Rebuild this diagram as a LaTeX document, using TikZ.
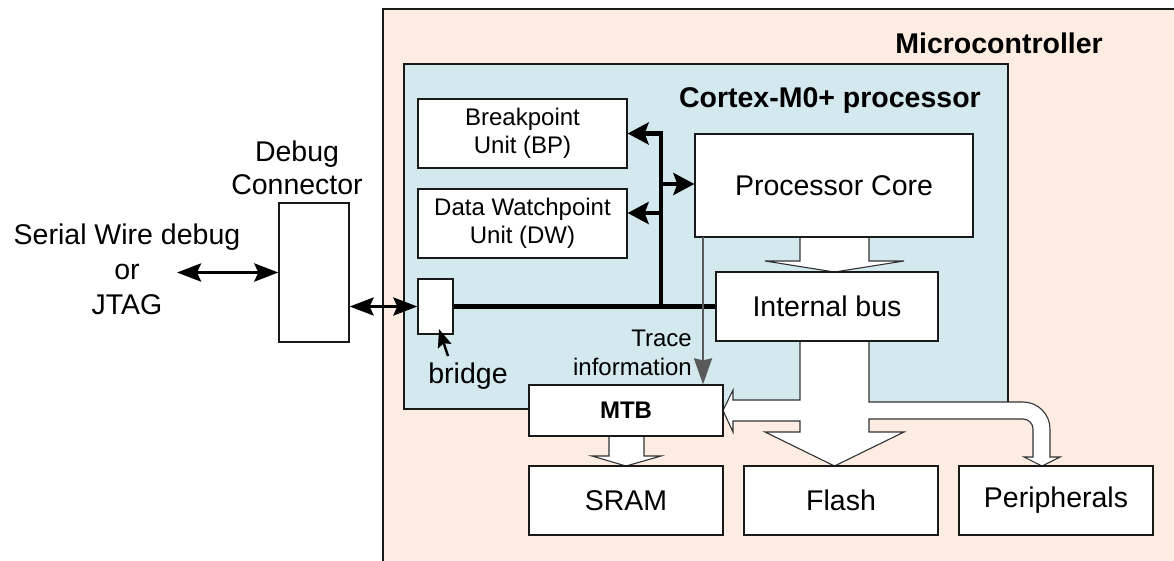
\documentclass[tikz,border=0pt]{standalone}
\usepackage{fontspec}
\setmainfont{Liberation Sans}
\usetikzlibrary{arrows.meta}
\definecolor{peach}{HTML}{FCECE2}
\definecolor{lblue}{HTML}{D3E9EE}
\definecolor{tracegray}{HTML}{5A5A5A}
\newcommand{\bigfnt}{\fontsize{28.5}{33}\selectfont}
\newcommand{\smallfnt}{\fontsize{24}{28}\selectfont}
\begin{document}
\begin{tikzpicture}[x=1pt,y=-1pt,
  region/.style={draw=black!90, line width=1.3pt, inner sep=0pt},
  blk/.style={draw=black!90, line width=1.3pt, fill=white, inner sep=0pt, font=\bigfnt, align=center},
  sblk/.style={blk, font=\smallfnt},
  lbl/.style={inner sep=0pt, align=center, font=\bigfnt},
  fatarrow/.style={fill=white, draw=black!80, line width=1.1pt, line join=miter},
  bushead/.style={-{Stealth[length=21pt,width=22pt,inset=4pt]}},
  dblarrow/.style={{Stealth[length=24pt,width=18pt,inset=4pt]}-{Stealth[length=24pt,width=18pt,inset=4pt]}},
  trace/.style={draw=tracegray, line width=2.3pt, -{Stealth[length=26pt,width=18pt,inset=2pt]}, color=tracegray},
  pointer/.style={line width=2.5pt, -{Stealth[length=18pt,width=14pt,inset=3pt]}}
]
\useasboundingbox (0,0) rectangle (1174,560);
\clip (0,0) rectangle (1174,560);

% background regions
\node[region, fill=peach, minimum width=820pt, minimum height=580pt] (mc) at (793,299) {};
\node[region, fill=lblue, minimum width=604pt, minimum height=345pt] (cortex) at (706,236.5) {};
\node[lbl, anchor=base east, font=\bigfnt\bfseries] (mctitle) at (1103,53) {Microcontroller};
\node[lbl, anchor=base east, font=\bigfnt\bfseries] (cxtitle) at (981,107) {Cortex-M0+ processor};

% fat (hollow) arrows
\filldraw[fatarrow] (800,237) -- (800,261) -- (765,261) -- (834.5,272) -- (904,261) -- (869,261) -- (869,237);
\filldraw[fatarrow] (800,341) -- (800,400) -- (733,400) -- (733,390) -- (723,410.5) -- (733,432)
  -- (733,421) -- (800,421) -- (800,432) -- (765,432) -- (834.5,466) -- (904,432) -- (869,432)
  -- (869,419) -- (1023,419) arc[start angle=90,end angle=0,radius=10pt] -- (1033,457) -- (1024,457)
  -- (1042,466) -- (1060,457) -- (1050,457) -- (1050,429) arc[start angle=0,end angle=90,radius=27pt]
  -- (869,402) -- (869,341);
\filldraw[fatarrow] (609,436) -- (609,456) -- (592,456) -- (626,466) -- (661,456) -- (644,456) -- (644,436);

% blocks
\node[sblk, minimum width=209pt, minimum height=69pt] (bp) at (522.5,133.5) {Breakpoint\\Unit (BP)};
\node[sblk, minimum width=209pt, minimum height=69pt] (dw) at (522.5,223.5) {Data Watchpoint\\Unit (DW)};
\node[blk, minimum width=35pt, minimum height=55pt] (br) at (435.5,306.5) {};
\node[blk, minimum width=278pt, minimum height=103pt] (pc) at (834,185.5) {Processor Core};
\node[blk, minimum width=222pt, minimum height=69pt] (ib) at (827,306.5) {Internal bus};
\node[blk, minimum width=194pt, minimum height=51pt, font=\smallfnt\bfseries] (mtb) at (626,410.5) {MTB};
\node[blk, minimum width=194pt, minimum height=69pt] (sram) at (626,500.5) {SRAM};
\node[blk, minimum width=194pt, minimum height=69pt] (flash) at (841,500.5) {Flash};
\node[blk, minimum width=194pt, minimum height=69pt] (per) at (1056,500.5) {Peripherals};
\node[blk, minimum width=70pt, minimum height=139pt] (dbg) at (314,272.5) {};

% labels
\node[lbl, anchor=north] (dbglbl) at (297,141) {Debug\\Connector};
\node[lbl, anchor=north, font=\fontsize{28.5}{35}\selectfont] (swd) at (127,224) {Serial Wire debug\\or\\JTAG};
\node[lbl, anchor=north east, align=right, font=\fontsize{24}{29}\selectfont] (trlbl) at (692,330) {Trace\\information};
\node[lbl, anchor=base] (brlbl) at (468,383) {bridge};

% connectors
\coordinate (swdend) at (177,272.5);
\draw[dblarrow, line width=3.5pt] (swdend) -- (dbg.west);
\draw[dblarrow, line width=3pt] (dbg.east |- br.west) -- (br.west);
\draw[line width=5.5pt] (br.east) -- (ib.west);
\coordinate (j) at (661,306.5);
\coordinate (jdw) at (661,213);
\coordinate (jpc) at (661,184);
\draw[bushead, line width=4.8pt, line join=miter] (j) |- (bp.east);
\draw[bushead, line width=4.5pt] (jdw) -- (jdw -| dw.east);
\draw[bushead, line width=4.5pt] (jpc) -- (jpc -| pc.west);
\coordinate (trtop) at (703,237);
\draw[trace] (trtop) -- (trtop |- mtb.north);
\coordinate (ptail) at (448,356);
\coordinate (ptip) at (439,329);
\draw[pointer] (ptail) -- (ptip);
\end{tikzpicture}
\end{document}
